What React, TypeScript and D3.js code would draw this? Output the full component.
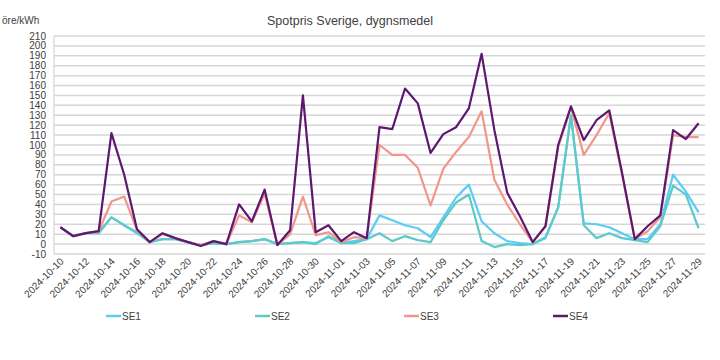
import React from "react";
import * as d3 from "d3";

const dates: string[] = [
  "2024-10-10","2024-10-11","2024-10-12","2024-10-13","2024-10-14","2024-10-15","2024-10-16","2024-10-17","2024-10-18","2024-10-19",
  "2024-10-20","2024-10-21","2024-10-22","2024-10-23","2024-10-24","2024-10-25","2024-10-26","2024-10-27","2024-10-28","2024-10-29",
  "2024-10-30","2024-10-31","2024-11-01","2024-11-02","2024-11-03","2024-11-04","2024-11-05","2024-11-06","2024-11-07","2024-11-08",
  "2024-11-09","2024-11-10","2024-11-11","2024-11-12","2024-11-13","2024-11-14","2024-11-15","2024-11-16","2024-11-17","2024-11-18",
  "2024-11-19","2024-11-20","2024-11-21","2024-11-22","2024-11-23","2024-11-24","2024-11-25","2024-11-26","2024-11-27","2024-11-28",
  "2024-11-29",
];

const se1: number[] = [17,8,11,12,27,19,12,2,5,5, 2,-1,1,0,2,3,5,0,1,2, 1,7,1,3,5,29,24,19,16,7, 27,47,60,23,11,3,1,0,6,37, 130,21,20,17,11,5,5,20,70,53, 32];
const se2: number[] = [17,8,11,11,27,19,11,2,5,5, 2,-1,1,0,2,3,5,0,1,2, 0,8,1,1,5,11,3,8,4,2, 24,42,50,3,-3,0,-1,0,7,37, 130,19,6,11,6,4,2,18,59,50, 16];
const se3: number[] = [17,8,11,13,43,48,14,2,10,6, 2,-1,3,0,29,22,51,-1,10,48, 9,12,2,7,6,100,90,90,77,39, 76,93,108,134,65,40,20,2,18,98, 138,90,110,132,70,5,13,27,110,108, 108];
const se4: number[] = [17,8,11,13,112,70,15,2,11,6, 2,-2,3,0,40,23,55,-1,14,150, 12,19,3,12,6,118,116,157,142,92, 111,118,137,192,115,52,28,2,18,100, 139,105,125,135,72,5,18,29,115,106, 122];

const seriesNames: string[] = ["SE1", "SE2", "SE3", "SE4"];
const seriesColors: string[] = ["#5ccbf7", "#5ec9c9", "#f2968a", "#5c1870"];
const yTicks: number[] = d3.range(-10, 211, 10);
const title = "Spotpris Sverige, dygnsmedel";
const unitLabel = "öre/kWh";

export default function App() {
  const W = 720, H = 360;
  const left = 54, right = 705, top = 36, bottom = 254;
  const font = "'Liberation Sans', Arial, sans-serif";
  const txt = "#404040";

  const x = d3.scaleBand<string>().domain(dates).range([left, right]);
  const cx = (d: string) => (x(d) as number) + x.bandwidth() / 2;
  const y = d3.scaleLinear().domain([-10, 210]).range([bottom, top]);

  const allSeries = [se1, se2, se3, se4];
  const line = d3.line<number>()
    .x((_, i) => cx(dates[i]))
    .y((v) => y(v));

  const legendX = [106, 255, 404, 553];

  return (
    <svg width={W} height={H} style={{ position: "absolute", left: 0, top: 0, background: "#fff" }}>
      <text x={350} y={25} textAnchor="middle" fontFamily={font} fontSize={12.5} fill={txt}>{title}</text>
      <text x={2} y={24} fontFamily={font} fontSize={10} fill={txt}>{unitLabel}</text>

      {yTicks.map((t) => (
        <g key={t}>
          <line x1={left} x2={right} y1={y(t)} y2={y(t)} stroke="#d6d6d6" strokeWidth={1.5} />
          <text x={46} y={y(t) + 3.5} textAnchor="end" fontFamily={font} fontSize={10} fill={txt}>{t}</text>
        </g>
      ))}
      <line x1={left} x2={left} y1={top} y2={bottom} stroke="#d6d6d6" strokeWidth={1.2} />

      {dates.map((d, i) =>
        i % 2 === 0 ? (
          <text
            key={d}
            transform={`translate(${cx(d) + 4},${bottom + 8}) rotate(-45)`}
            textAnchor="end"
            fontFamily={font}
            fontSize={10}
            fill={txt}
          >
            {d}
          </text>
        ) : null
      )}

      {allSeries.map((s, k) => (
        <path key={k} d={line(s) || ""} fill="none" stroke={seriesColors[k]} strokeWidth={2.2} strokeLinejoin="round" />
      ))}

      {seriesNames.map((n, k) => (
        <g key={n}>
          <line x1={legendX[k]} x2={legendX[k] + 15} y1={316} y2={316} stroke={seriesColors[k]} strokeWidth={2.5} />
          <text x={legendX[k] + 16} y={319.5} fontFamily={font} fontSize={10} fill={txt}>{n}</text>
        </g>
      ))}
    </svg>
  );
}
